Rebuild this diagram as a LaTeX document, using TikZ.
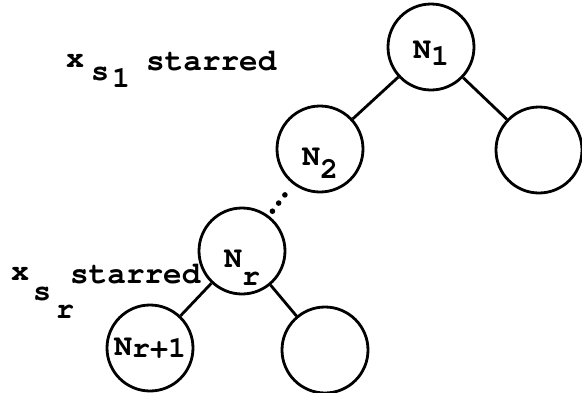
\documentclass[tikz,border=0pt]{standalone}
\usepackage{fontspec}
\usetikzlibrary{calc}
\newfontfamily\typefont{TeX Gyre Cursor}
\tikzset{
  treenode/.style={draw, circle, line width=2.8pt, minimum size=86pt, inner sep=0pt,
    font=\fontsize{30}{30}\selectfont\typefont\bfseries, text depth=0pt},
  lift/.style={text height=#1},
  branch/.style={line width=2.8pt},
  ttlabel/.style={inner sep=0pt, anchor=base west, font=\fontsize{30}{30}\selectfont\typefont\bfseries},
  ttword/.style={inner sep=0pt, anchor=base west, font=\fontsize{31}{31}\selectfont\typefont\bfseries}
}
\newcommand{\lowered}[2]{\raisebox{-#1}{#2}}
\begin{document}
\begin{tikzpicture}[x=1pt, y=-1pt]
        \useasboundingbox (0, 0) rectangle (582, 392);
        \node[treenode, lift=22pt] (N1) at (431, 47) {N\lowered{7pt}{1}};
        \node[treenode] (R1) at (539, 150) {};
        \node[treenode, lift=32pt] (N2) at (320, 149) {N\lowered{13pt}{2}};
        \node[treenode, lift=32pt] (Nr) at (242, 251) {N\lowered{18pt}{r}};
        \node[treenode, lift=14pt] (Nr1) at (150, 348) {N\lowered{2pt}{r+1}};
        \node[treenode] (Rr) at (325, 350) {};
        \draw[branch] (N1) -- (N2); \draw[branch] (N1) -- (R1);
        \draw[branch] (Nr) -- (Nr1); \draw[branch] (Nr) -- (Rr);
        \foreach \p in {0.45, 0.53, 0.61}
            \fill ($(N2)!\p!(Nr)$) circle (2.8pt);
        \node[ttlabel] (xs1) at (66, 67) {x\hspace{7pt}\lowered{13pt}{s}\hspace{3pt}\lowered{20pt}{1}};
        \node[ttword] (star1) at (146, 70) {starred};
        \node[ttlabel] (xsr) at (11, 280) {x\hspace{4pt}\lowered{20pt}{s}\hspace{5pt}\lowered{38pt}{r}};
        \node[ttword] (starr) at (70, 283) {starred};
    \end{tikzpicture}
\end{document}
